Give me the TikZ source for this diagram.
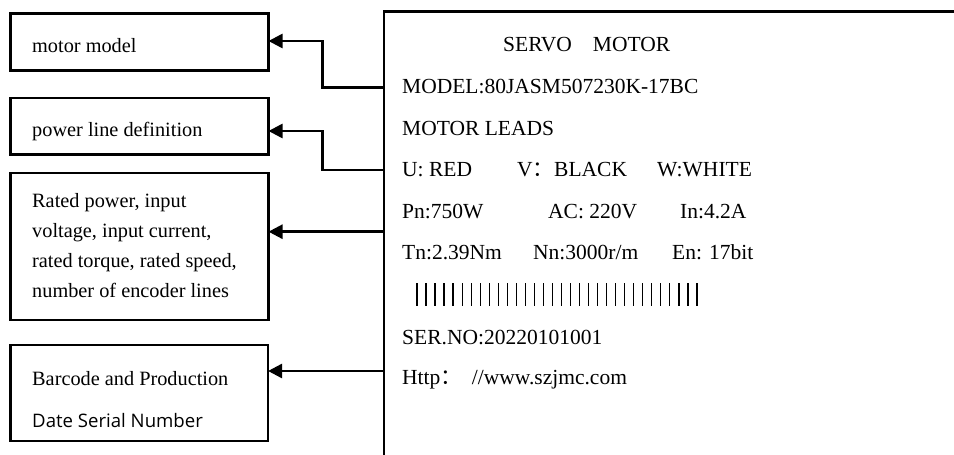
\documentclass[tikz,border=0pt]{standalone}
\usepackage{fontspec}
\setmainfont{Liberation Serif}
\newfontfamily\sansf{Open Sans}
\newfontfamily\cjk{Noto Sans CJK SC}
\usetikzlibrary{arrows.meta}
\begin{document}
\begin{tikzpicture}[x=1pt,y=-1pt,
  lbox/.style={draw,line width=2.6pt,rectangle,inner sep=0pt,outer sep=0pt},
  conn/.style={line width=2.6pt,-{Triangle[length=14pt,width=14pt]}},
  ltxt/.style={anchor=base west,inner sep=0pt,font=\fontsize{20.3}{24}\selectfont},
  rtxt/.style={anchor=base west,inner sep=0pt,font=\fontsize{21.5}{26}\selectfont},
  bar/.style={line width=1.3pt}]
\useasboundingbox (0,0) rectangle (954,455);
% main label frame
\draw[line width=2.8pt] (384,455) -- (384,11.7) -- (954,11.7);
\coordinate (c1) at (384,87.3);
\coordinate (c2) at (384,170);
\coordinate (c3) at (384,231.7);
\coordinate (c4) at (384,371);
\coordinate (k1) at (322.7,41);
\coordinate (k2) at (322.7,131);
% left boxes
\node[lbox,minimum width=258pt,minimum height=56.6pt] (b1) at (139.5,42) {};
\node[lbox,minimum width=258pt,minimum height=56.7pt] (b2) at (139.5,126.3) {};
\node[lbox,minimum width=258pt,minimum height=147pt] (b3) at (139.5,246.5) {};
\node[lbox,minimum width=257.5pt,minimum height=96pt] (b4) at (139.3,393) {};
% left texts
\node[ltxt] (t1) at (32,52) {motor model};
\node[ltxt] (t2) at (32,136) {power line definition};
\node[ltxt] (t3a) at (32,207) {Rated power, input};
\node[ltxt] (t3b) at (32,237.5) {voltage, input current,};
\node[ltxt] (t3c) at (32,267) {rated torque, rated speed,};
\node[ltxt] (t3d) at (32,297) {number of encoder lines};
\node[ltxt] (t4a) at (32,385) {Barcode and Production};
\node[ltxt] (t4b) at (32,427) {\sansf\fontsize{18.6}{22}\selectfont Date Serial Number};
% connectors
\draw[conn] (c1) -| (k1) -- (b1.east |- k1);
\draw[conn] (c2) -| (k2) -- (b2.east |- k2);
\draw[conn] (c3) -- (b3.east |- c3);
\draw[conn] (c4) -- (b4.east |- c4);
% right texts
\node[rtxt] (r1) at (503,51.7) {SERVO\hspace{21pt}MOTOR};
\node[rtxt] (r2) at (402,93.3) {MODEL:80JASM507230K-17BC};
\node[rtxt] (r3) at (402,135) {MOTOR LEADS};
\node[rtxt] (r4a) at (402,176.7) {U: RED};
\node[rtxt] (r4b) at (517,176.7) {V{\cjk ：}BLACK};
\node[rtxt] (r4c) at (657,176.7) {W:WHITE};
\node[rtxt] (r5a) at (402,218.3) {Pn:750W};
\node[rtxt] (r5b) at (548,218.3) {AC: 220V};
\node[rtxt] (r5c) at (680,218.3) {In:4.2A};
\node[rtxt] (r6a) at (402,259.3) {Tn:2.39Nm};
\node[rtxt] (r6b) at (533,259.3) {Nn:3000r/m};
\node[rtxt] (r6c) at (672,259.3) {En: 17bit};
\foreach \i in {0,...,31} {
  \draw[bar] ({417+\i*9.03},283) -- ({417+\i*9.03},306);
}
\node[rtxt] (r7) at (402,344) {SER.NO:20220101001};
\node[rtxt] (r8) at (402,384.3) {Http{\cjk ：}\hspace{10pt}//www.szjmc.com};
\end{tikzpicture}
\end{document}
